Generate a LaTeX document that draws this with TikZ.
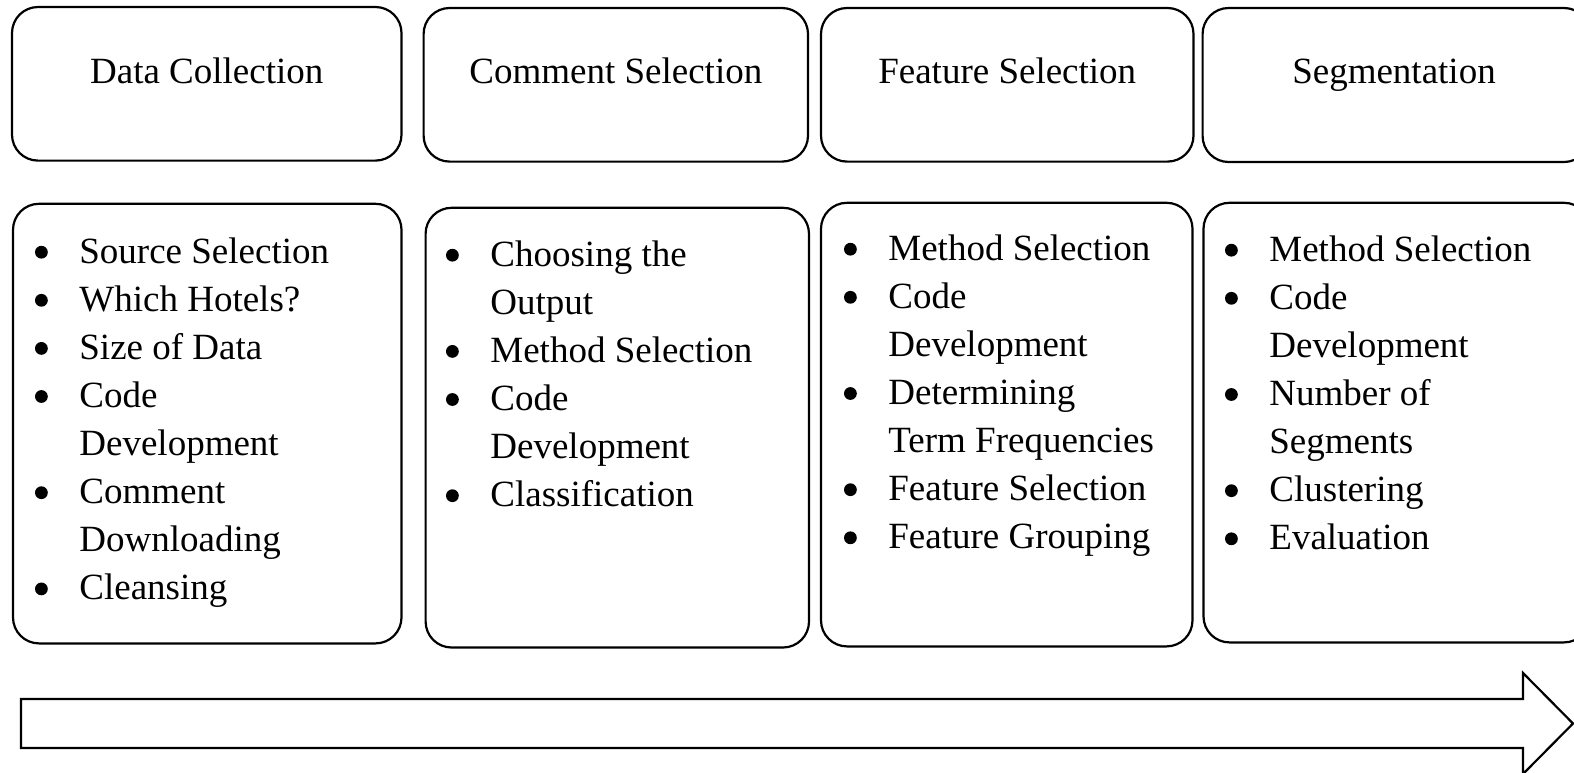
\documentclass[tikz,border=0pt]{standalone}
\usepackage{fontspec}
\setmainfont{Liberation Serif}
\newcommand{\bul}{\makebox[38pt][c]{\tikz[baseline=0pt,x=1pt,y=1pt]{\fill[black] (0,5.4) circle (3.2);}}}
\newcommand{\txtsize}{\fontsize{18.5pt}{24.05pt}\selectfont}
\begin{document}
\begin{tikzpicture}[x=0.5pt,y=-0.5pt,
  stagebox/.style={draw=black, line width=1.1pt, rounded corners=13pt, inner sep=0pt, fill=white},
  headtext/.style={anchor=base, inner sep=0pt, font=\txtsize},
  listtext/.style={anchor=base west, inner sep=0pt, font=\txtsize, align=left},
]
\useasboundingbox (0,0) rectangle (1574,772);
\clip (0,0) rectangle (1574,772);
\fill[white] (0,0) rectangle (1574,772);

% top boxes
\node[stagebox, minimum width=194.75pt, minimum height=76.8pt] (t1) at (206.75,83.8) {};
\node[stagebox, minimum width=192.2pt, minimum height=76.8pt] (t2) at (615.8,84.8) {};
\node[stagebox, minimum width=186.25pt, minimum height=76.8pt] (t3) at (1007.25,84.8) {};
\node[stagebox, minimum width=193.7pt, minimum height=77pt] (t4) at (1396.3,85) {};

\node[headtext] (h1) at (206.75,83) {Data Collection};
\node[headtext] (h2) at (615.8,83) {Comment Selection};
\node[headtext] (h3) at (1007.25,83) {Feature Selection};
\node[headtext] (h4) at (1394,83) {Segmentation};

% bottom boxes
\node[stagebox, minimum width=194.25pt, minimum height=219.8pt] (b1) at (207.25,423.6) {};
\node[stagebox, minimum width=191.7pt, minimum height=219.85pt] (b2) at (617.3,427.65) {};
\node[stagebox, minimum width=185.75pt, minimum height=221.8pt] (b3) at (1006.75,424.6) {};
\node[stagebox, minimum width=193.25pt, minimum height=219.8pt] (b4) at (1396.75,422.6) {};

\node[listtext] (l1) at (3,263) {\begin{tabular}[t]{@{}l@{}l@{}}
\bul & Source Selection\\
\bul & Which Hotels?\\
\bul & Size of Data\\
\bul & Code\\
     & Development\\
\bul & Comment\\
     & Downloading\\
\bul & Cleansing
\end{tabular}};

\node[listtext] (l2) at (414,266) {\begin{tabular}[t]{@{}l@{}l@{}}
\bul & Choosing the\\
     & Output\\
\bul & Method Selection\\
\bul & Code\\
     & Development\\
\bul & Classification
\end{tabular}};

\node[listtext] (l3) at (812,260) {\begin{tabular}[t]{@{}l@{}l@{}}
\bul & Method Selection\\
\bul & Code\\
     & Development\\
\bul & Determining\\
     & Term Frequencies\\
\bul & Feature Selection\\
\bul & Feature Grouping
\end{tabular}};

\node[listtext] (l4) at (1193,261) {\begin{tabular}[t]{@{}l@{}l@{}}
\bul & Method Selection\\
\bul & Code\\
     & Development\\
\bul & Number of\\
     & Segments\\
\bul & Clustering\\
\bul & Evaluation
\end{tabular}};

% progress arrow
\draw[line width=1.1pt, line join=miter, fill=white]
  (21,699) -- (1523,699) -- (1523,673) -- (1573,723.5) -- (1523,774)
  -- (1523,748) -- (21,748) -- cycle;
\end{tikzpicture}
\end{document}
